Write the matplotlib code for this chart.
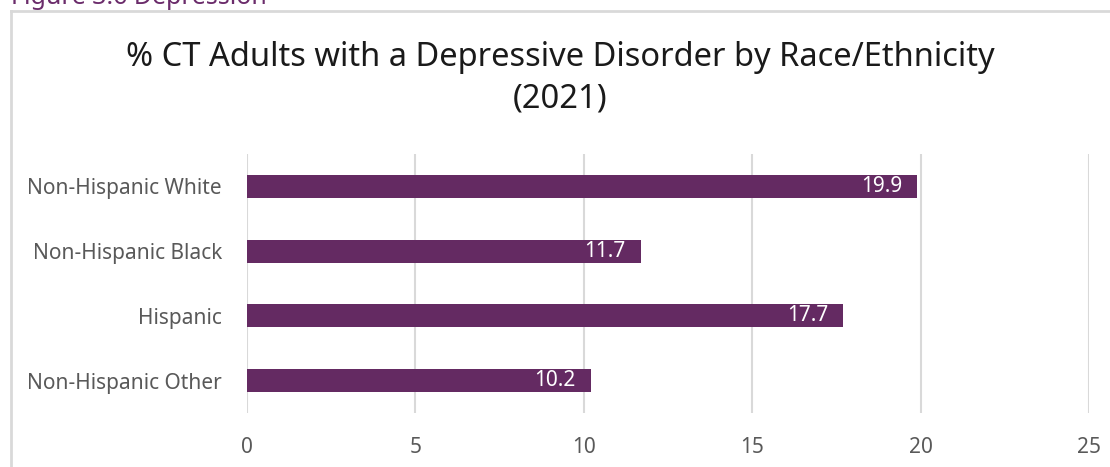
import numpy as np
import matplotlib
matplotlib.use("Agg")
from matplotlib import pyplot as plt
from matplotlib.lines import Line2D

# data
groups = ['Non-Hispanic White', 'Non-Hispanic Black', 'Hispanic', 'Non-Hispanic Other']
values = [19.9, 11.7, 17.7, 10.2]
xticks = [0, 5, 10, 15, 20, 25]

bar_color = '#642A62'
text_gray = '#595959'
grid_gray = '#D9D9D9'

plt.rcParams['font.family'] = ['Noto Sans', 'DejaVu Sans']

W, H = 1110, 467
fig = plt.figure(figsize=(W / 100, H / 100), dpi=100)

# outer chart frame (only top and left edges are visible)
fig.add_artist(Line2D([11 / W, 1.0], [1 - 11 / H, 1 - 11 / H], color=grid_gray, lw=2))
fig.add_artist(Line2D([11 / W, 11 / W], [0, 1 - 11 / H], color=grid_gray, lw=2))

# figure caption, cut off at the top edge like in the original
fig.text(11 / W, 1 - 4 / H, 'Figure 3.6 Depression', color='#6B2C6B',
         fontsize=18, fontweight='bold', ha='left', va='baseline')

fig.text(0.505, 1 - 66 / H, '% CT Adults with a Depressive Disorder by Race/Ethnicity',
         ha='center', va='baseline', fontsize=23.5, color='#1a1a1a')
fig.text(0.505, 1 - 108 / H, '(2021)', ha='center', va='baseline', fontsize=23.5, color='#1a1a1a')

ax = fig.add_axes([247 / W, 1 - 413 / H, (1089 - 247) / W, (413 - 154) / H])

ypos = np.arange(len(groups))[::-1]
ax.barh(ypos, values, height=0.355, color=bar_color, zorder=3)

for y, v in zip(ypos, values):
    ax.text(v - 0.45, y, f'{v}', ha='right', va='center', color='white', fontsize=15, zorder=4)

ax.set_xlim(0, 25)
ax.set_ylim(-0.5, 3.5)
ax.set_xticks(xticks)
ax.set_xticklabels([str(t) for t in xticks])
ax.set_yticks(ypos)
ax.set_yticklabels(groups)
ax.xaxis.grid(True, color=grid_gray, lw=1.5, zorder=0)
ax.tick_params(axis='both', length=0, labelsize=15, labelcolor=text_gray)
ax.tick_params(axis='x', pad=17)
ax.tick_params(axis='y', pad=18)
for s in ax.spines.values():
    s.set_visible(False)

fig.savefig('out.png', dpi=100, facecolor='white')
